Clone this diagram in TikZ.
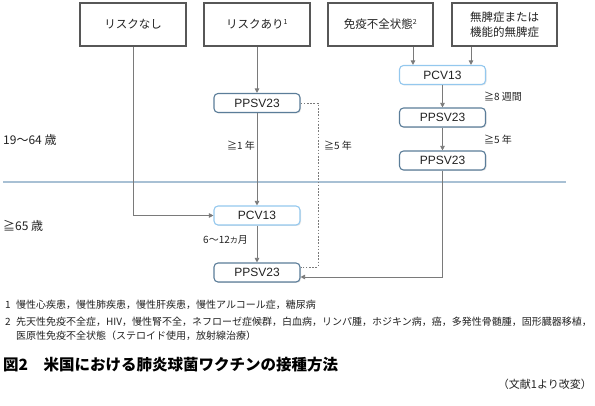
\documentclass[tikz,border=0pt]{standalone}
\usepackage{fontspec}
\setmainfont{Liberation Sans}
\newfontfamily\jp{Noto Sans CJK JP}
\usetikzlibrary{arrows.meta,shadows}
\definecolor{boxgray}{HTML}{575757}
\definecolor{pcvblue}{HTML}{94C8EE}
\definecolor{ppsvblue}{HTML}{5B7D99}
\definecolor{conngray}{HTML}{7A7A7A}
\definecolor{sepblue}{HTML}{A8C0D4}
\definecolor{txt}{HTML}{222222}
\begin{document}
\begin{tikzpicture}[x=1pt,y=-1pt,
  topbox/.style={draw=boxgray,line width=1.6pt,fill=white,minimum width=105pt,minimum height=43pt,inner sep=0pt,align=center,text=txt,
    font=\jp\fontsize{11.5}{15}\selectfont,
    drop shadow={shadow xshift=1.2pt,shadow yshift=-1.2pt,opacity=0.25}},
  vac/.style={rounded corners=4pt,fill=white,line width=1.1pt,minimum width=86pt,minimum height=19pt,inner sep=0pt,text=txt,
    font=\fontsize{12}{14}\selectfont,
    drop shadow={shadow xshift=1pt,shadow yshift=-1pt,opacity=0.2}},
  pcv/.style={vac,draw=pcvblue},
  ppsv/.style={vac,draw=ppsvblue},
  conn/.style={draw=conngray,line width=0.8pt},
  arr/.style={conn,-{Triangle[length=4.5pt,width=4.5pt]}},
  lab/.style={anchor=west,inner sep=0pt,text=txt,font=\jp\fontsize{10}{12}\selectfont},
  age/.style={anchor=west,inner sep=0pt,text=txt,font=\jp\fontsize{12}{14}\selectfont},
  note/.style={anchor=west,inner sep=0pt,text=txt,font=\jp\fontsize{10}{12}\selectfont}
]
\useasboundingbox (0,0) rectangle (595,406);

% separator
\draw[sepblue,line width=1.6pt] (3,182) -- (566,182);

% top boxes
\node[topbox,minimum width=106pt] (b1) at (133,24.5) {リスクなし};
\node[topbox,minimum width=106pt] (b2) at (257,24.5) {リスクあり\textsuperscript{\fontsize{7}{7}\selectfont 1}};
\node[topbox] (b3) at (380.5,24.5) {免疫不全状態\textsuperscript{\fontsize{7}{7}\selectfont 2}};
\node[topbox] (b4) at (504.5,24.5) {無脾症または\\機能的無脾症};

% vaccine boxes
\node[ppsv] (p1) at (257,103) {PPSV23};
\node[pcv] (c1) at (257,215.5) {PCV13};
\node[ppsv] (p2) at (257,272.5) {PPSV23};
\node[pcv] (c2) at (442.5,75) {PCV13};
\node[ppsv] (p3) at (442.5,117.5) {PPSV23};
\node[ppsv] (p4) at (442.5,160.5) {PPSV23};

% connectors
\coordinate (x413) at (413,0);
\coordinate (x471) at (471,0);
\coordinate (d1) at (318,267);
\coordinate (s1) at (442.5,277);
\draw[arr] (b2.south) -- (p1.north);
\draw[arr] (p1.south) -- (c1.north);
\draw[arr] (c1.south) -- (p2.north);
\draw[arr] (b1.south) |- (c1.west);
\draw[arr] (b3.south -| x413) -- (c2.north -| x413);
\draw[arr] (b4.south -| x471) -- (c2.north -| x471);
\draw[arr] (c2.south) -- (p3.north);
\draw[arr] (p3.south) -- (p4.north);
\draw[conn,dash pattern=on 1.6pt off 1.6pt] (p1.east) -| (d1) -- (d1 -| p2.east);
\draw[arr] (p4.south) -- (s1) -- (s1 -| p2.east);

% interval labels
\node[lab] (l1) at (227,146) {≧1 年};
\node[lab] (l2) at (324,146) {≧5 年};
\node[lab] (l3) at (203,240) {6～12{\fontsize{8}{10}\selectfont カ}月};
\node[lab] (l4) at (484,97) {≧8 週間};
\node[lab] (l5) at (484,140) {≧5 年};

% age labels
\node[age] (a1) at (3,140) {19～64 歳};
\node[age] (a2) at (3,226) {≧65 歳};

% footnotes
\node[note] (n1) at (5,305) {1};
\node[note] (t1) at (16,305) {慢性心疾患，慢性肺疾患，慢性肝疾患，慢性アルコール症，糖尿病};
\node[note] (n2) at (5,322) {2};
\node[note] (t2) at (16,322) {先天性免疫不全症，HIV，慢性腎不全，ネフローゼ症候群，白血病，リンパ腫，ホジキン病，癌，多発性骨髄腫，固形臓器移植，};
\node[note] (t3) at (16,335.5) {医原性免疫不全状態（ステロイド使用，放射線治療）};

% caption
\node[anchor=west,inner sep=0pt,text=black,font=\jp\bfseries\fontsize{15.5}{18}\selectfont] (cap) at (3,365) {図2\quad 米国における肺炎球菌ワクチンの接種方法};
\node[anchor=east,inner sep=0pt,text=txt,font=\jp\fontsize{11}{13}\selectfont] (src) at (592,384) {（文献1より改変）};
\end{tikzpicture}
\end{document}
